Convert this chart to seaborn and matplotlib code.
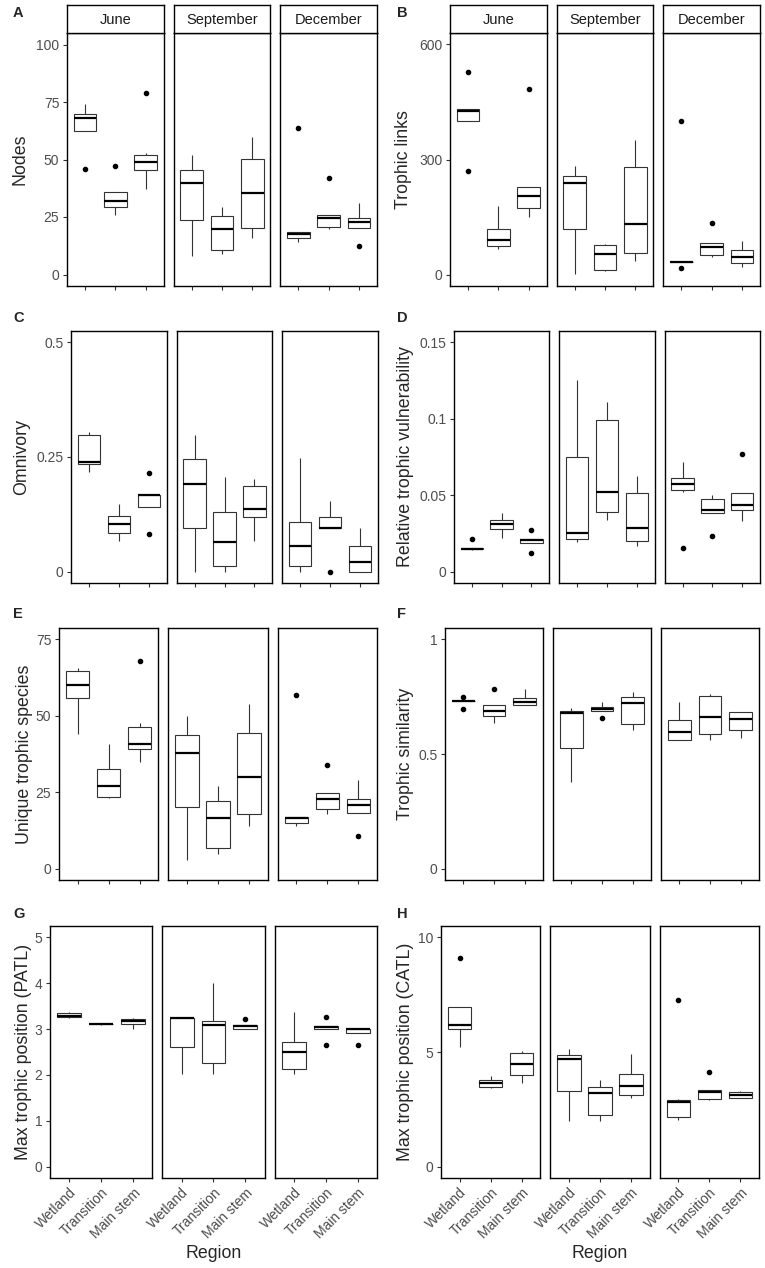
import pandas as pd
import matplotlib
matplotlib.use("Agg")
import matplotlib.pyplot as plt
import seaborn as sns
from matplotlib.ticker import FuncFormatter

# ------------------------------
# Values per site
# each metric: [June, September, December] x [Wetland, Transition, Main stem]
# ------------------------------
MONTHS = ["June", "September", "December"]
REGIONS = ["Wetland", "Transition", "Main stem"]

nodes = [
    [[46, 62.6, 68, 70, 74], [26, 29.5, 32, 36, 47], [37, 45, 45.6, 48.7, 51, 52.8, 79]],
    [[8, 23.8, 40, 45.6, 52], [9, 10.6, 20, 25.4, 29.5], [16, 20.3, 35.6, 50.1, 60]],
    [[14.2, 16, 17.4, 18.5, 63.7], [19.9, 20.6, 24.7, 25.9, 42], [12.6, 20.3, 23, 24.7, 31]],
]
links = [
    [[269, 401, 426, 433, 527], [66, 74, 91, 119, 180], [149, 173, 206, 228, 484]],
    [[1, 119, 238, 258, 283], [10, 12, 53, 77, 79], [36, 55, 133, 280, 351]],
    [[17, 33, 33, 33, 400], [45, 50, 73, 81, 134], [20, 30, 46, 65, 88]],
]
omnivory = [
    [[0.217, 0.234, 0.238, 0.299, 0.304], [0.066, 0.084, 0.103, 0.122, 0.148], [0.082, 0.140, 0.166, 0.167, 0.214]],
    [[0.0, 0.095, 0.192, 0.245, 0.299], [0.0, 0.013, 0.064, 0.130, 0.207], [0.066, 0.119, 0.1375, 0.187, 0.202]],
    [[0.0, 0.012, 0.055, 0.108, 0.248], [0.0, 0.094, 0.095, 0.119, 0.153], [0.0, 0.0, 0.020, 0.055, 0.095]],
]
vulnerability = [
    [[0.0142, 0.0146, 0.0148, 0.0153, 0.0212], [0.0218, 0.0277, 0.0314, 0.0338, 0.0382], [0.012, 0.0186, 0.0207, 0.0216, 0.0269]],
    [[0.0192, 0.0214, 0.0251, 0.0749, 0.1255], [0.0338, 0.0393, 0.052, 0.099, 0.111], [0.0164, 0.0197, 0.0284, 0.0517, 0.0627]],
    [[0.0153, 0.0524, 0.0538, 0.0572, 0.0600, 0.0622, 0.0714], [0.0235, 0.0382, 0.040, 0.0474, 0.0498], [0.0328, 0.040, 0.0437, 0.0517, 0.0769]],
]
unique_species = [
    [[43.9, 55.8, 60, 64.6, 65.6], [23.1, 23.4, 27, 32.5, 40.7], [34.9, 38.5, 39.5, 40.9, 44.8, 47.6, 67.8]],
    [[2.9, 20.2, 37.9, 43.8, 49.8], [4.9, 6.8, 16.4, 22, 26.9], [14, 18, 30, 44.5, 54]],
    [[14, 15, 16.4, 16.9, 56.8], [18, 19.6, 22.9, 24.7, 33.8], [10.7, 18.2, 20.9, 22.7, 28.9]],
]
similarity = [
    [[0.696, 0.732, 0.732, 0.732, 0.75], [0.636, 0.668, 0.687, 0.712, 0.785], [0.712, 0.715, 0.728, 0.745, 0.782]],
    [[0.378, 0.525, 0.68, 0.688, 0.699], [0.655, 0.688, 0.696, 0.706, 0.725], [0.604, 0.633, 0.723, 0.75, 0.771]],
    [[0.563, 0.563, 0.597, 0.648, 0.725], [0.56, 0.587, 0.662, 0.754, 0.76], [0.568, 0.603, 0.652, 0.684, 0.684]],
]
patl = [
    [[3.234, 3.256, 3.29, 3.343, 3.365], [3.10, 3.105, 3.11, 3.115, 3.12], [3.0, 3.11, 3.176, 3.212, 3.234]],
    [[2.013, 2.616, 3.249, 3.249, 3.249], [2.013, 2.253, 3.089, 3.183, 3.997], [3.0, 3.0, 3.067, 3.085, 3.23]],
    [[2.013, 2.122, 2.493, 2.725, 3.365], [2.653, 3.0, 3.052, 3.074, 3.256], [2.653, 2.907, 3.0, 3.0, 3.0]],
]
catl = [
    [[5.2, 6.0, 6.16, 6.95, 9.11], [3.42, 3.46, 3.63, 3.78, 3.97], [3.66, 3.98, 4.49, 4.94, 5.06]],
    [[2.0, 3.31, 4.69, 4.87, 5.12], [2.0, 2.24, 3.23, 3.49, 3.78], [3.01, 3.14, 3.52, 4.03, 4.9]],
    [[2.03, 2.12, 2.24, 2.82, 2.88, 2.94, 7.27], [2.91, 2.94, 3.26, 3.34, 4.11], [2.98, 2.98, 3.125, 3.24, 3.31]],
]

sns.set_style("ticks")
plt.rcParams["font.family"] = ["Liberation Sans", "DejaVu Sans"]

W, H = 765, 1268
fig = plt.figure(figsize=(W / 100, H / 100), dpi=100)
fig.patch.set_facecolor("white")


def add_px_axes(x0, x1, ytop, ybot):
    return fig.add_axes([x0 / W, 1 - ybot / H, (x1 - x0) / W, (ybot - ytop) / H])


def long_table(values):
    rows = []
    for month, per_region in zip(MONTHS, values):
        for region, vals in zip(REGIONS, per_region):
            for v in vals:
                rows.append((month, region, v))
    return pd.DataFrame(rows, columns=["month", "region", "value"])


# letter, data, y label, y ticks, y limits, panel x range, panel y range, ylabel x, letter pos
panels = [
    ("A", nodes, "Nodes", [0, 25, 50, 75, 100], (-5, 105), (67, 377), (33, 286), 20, (13, 13)),
    ("B", links, "Trophic links", [0, 300, 600], (-30, 630), (450, 760), (33, 286), 404, (397, 13)),
    ("C", omnivory, "Omnivory", [0, 0.25, 0.5], (-0.025, 0.525), (71, 378), (331, 583), 22, (13, 318)),
    ("D", vulnerability, "Relative trophic vulnerability", [0, 0.05, 0.1, 0.15], (-0.0075, 0.1575),
     (454, 760), (331, 583), 406, (397, 318)),
    ("E", unique_species, "Unique trophic species", [0, 25, 50, 75], (-3.75, 78.75), (59, 377), (628, 880), 25, (13, 614)),
    ("F", similarity, "Trophic similarity", [0, 0.5, 1], (-0.05, 1.05), (445, 759), (628, 880), 406, (397, 614)),
    ("G", patl, "Max trophic position (PATL)", [0, 1, 2, 3, 4, 5], (-0.25, 5.25), (50, 377), (926, 1178), 24, (13, 914)),
    ("H", catl, "Max trophic position (CATL)", [0, 5, 10], (-0.5, 10.5), (441, 759), (926, 1178), 406, (397, 914)),
]

GAP = 10
for letter, values, ylabel, yticks, ylim, (px0, px1), (ptop, pbot), lab_x, (lx, ly) in panels:
    df = long_table(values)
    fw = (px1 - px0 - 2 * GAP) / 3
    top_row = ptop < 100
    bottom_row = pbot > 1100
    for j, month in enumerate(MONTHS):
        x0 = px0 + j * (fw + GAP)
        ax = add_px_axes(x0, x0 + fw, ptop, pbot)
        sub = df[df["month"] == month]
        sns.boxplot(data=sub, x="region", y="value", order=REGIONS, ax=ax,
                    color="white", linecolor="#333333", linewidth=0.8, width=0.75,
                    showcaps=False, fliersize=3,
                    medianprops={"color": "black", "linewidth": 1.6},
                    flierprops={"marker": "o", "markerfacecolor": "black",
                                "markeredgecolor": "black"})
        ax.set_xlim(-0.6, 2.6)
        ax.set_ylim(*ylim)
        ax.set_xlabel("")
        ax.set_ylabel("")
        for sp in ax.spines.values():
            sp.set_visible(True)
            sp.set_color("black")
            sp.set_linewidth(1.0)
        ax.tick_params(axis="both", length=3, width=0.8, color="#333333",
                       labelsize=10, labelcolor="#4D4D4D", pad=2.5)
        ax.set_xticks([0, 1, 2])
        if bottom_row:
            ax.set_xticklabels(REGIONS, rotation=45, ha="right", va="top",
                               rotation_mode="anchor")
        else:
            ax.tick_params(axis="x", labelbottom=False)
        if j == 0:
            ax.set_yticks(yticks)
            ax.yaxis.set_major_formatter(FuncFormatter(lambda v, p: f"{v:g}"))
        else:
            ax.tick_params(axis="y", left=False, labelleft=False)

        if top_row:
            sax = add_px_axes(x0, x0 + fw, 5, ptop)
            sax.set_xticks([])
            sax.set_yticks([])
            for sp in sax.spines.values():
                sp.set_visible(True)
                sp.set_color("black")
                sp.set_linewidth(1.0)
            sax.text(0.5, 0.48, month, ha="center", va="center", fontsize=10.5,
                     color="#1A1A1A", transform=sax.transAxes)

    fig.text(lab_x / W, 1 - (ptop + pbot) / 2 / H, ylabel, rotation=90,
             ha="center", va="center", fontsize=12.8)
    fig.text(lx / W, 1 - ly / H, letter, ha="left", va="center",
             fontsize=10.5, fontweight="bold")
    if bottom_row:
        fig.text((px0 + px1) / 2 / W, 1 - 1254 / H, "Region",
                 ha="center", va="center", fontsize=12.8)

fig.savefig("out.png", dpi=100, facecolor="white")
